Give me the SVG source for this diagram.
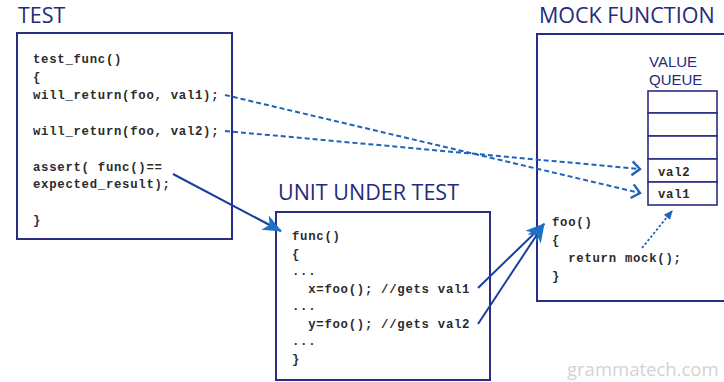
<svg xmlns="http://www.w3.org/2000/svg" width="724" height="382" viewBox="0 0 724 382">
  <style>
    .title { font-family: "Open Sans", "Liberation Sans", sans-serif; font-size: 21.5px; fill: #252a7c; }
    .label { font-family: "Liberation Sans", "Open Sans", sans-serif; font-size: 15px; fill: #252a7c; }
    .box { fill: #ffffff; stroke: #2a2d86; stroke-width: 2; }
    .cell { fill: #ffffff; stroke: #2a2d86; stroke-width: 1.6; }
    .code { font-family: "Liberation Mono", "Courier New", monospace; font-size: 12.3px; font-weight: bold; letter-spacing: 0.72px; fill: #2b2b2b; white-space: pre; }
    .dash { fill: none; stroke: #1f63b6; stroke-width: 2; stroke-dasharray: 5 3; }
    .dot { fill: none; stroke: #1f63b6; stroke-width: 1.8; stroke-dasharray: 2.5 2; }
    .solid { fill: none; stroke: #1b3d9f; stroke-width: 2; }
    .mark { font-family: "Open Sans", "Liberation Sans", sans-serif; font-size: 18.5px; fill: #d3d3d3; }
  </style>
  <defs>
    <marker id="chev" markerUnits="userSpaceOnUse" markerWidth="12" markerHeight="16" refX="9" refY="7" orient="auto" overflow="visible">
      <path d="M1,0 L9,7 L1,14" fill="none" stroke="#1f63b6" stroke-width="2.4"/>
    </marker>
    <marker id="head" markerUnits="userSpaceOnUse" markerWidth="20" markerHeight="16" refX="18" refY="8" orient="auto" overflow="visible">
      <path d="M0,0 L19,8 L0,16 L5,8 z" fill="#1e6fc6"/>
    </marker>
    <marker id="small" markerUnits="userSpaceOnUse" markerWidth="9" markerHeight="8" refX="8" refY="4" orient="auto" overflow="visible">
      <path d="M0,0 L9,4 L0,8 z" fill="#1f63b6"/>
    </marker>
  </defs>

  <rect width="724" height="382" fill="#ffffff"/>

  <!-- test case -->
  <g id="test">
    <text class="title" x="18" y="23">TEST</text>
    <rect class="box" x="17" y="33" width="215" height="206"/>
    <text class="code" x="33" y="63">test_func()</text>
    <text class="code" x="33" y="81">{</text>
    <text class="code" x="33" y="99">will_return(foo, val1);</text>
    <text class="code" x="33" y="135">will_return(foo, val2);</text>
    <text class="code" x="33" y="171">assert( func()==</text>
    <text class="code" x="33" y="188">expected_result);</text>
    <text class="code" x="33" y="224">}</text>
  </g>

  <!-- code being exercised -->
  <g id="unit-under-test">
    <text class="title" x="278" y="200">UNIT UNDER TEST</text>
    <rect class="box" x="276" y="212" width="214" height="168"/>
    <text class="code" x="292" y="240">func()</text>
    <text class="code" x="292" y="257.5">{</text>
    <text class="code" x="292" y="275">...</text>
    <text class="code" x="292" y="292.5">  x=foo(); //gets val1</text>
    <text class="code" x="292" y="310">...</text>
    <text class="code" x="292" y="327.5">  y=foo(); //gets val2</text>
    <text class="code" x="292" y="345">...</text>
    <text class="code" x="292" y="362.5">}</text>
  </g>

  <!-- mocked dependency -->
  <g id="mock-function">
    <text class="title" x="539" y="23">MOCK FUNCTION</text>
    <rect class="box" x="537" y="34" width="200" height="267"/>
    <text class="code" x="552" y="226">foo()</text>
    <text class="code" x="552" y="244">{</text>
    <text class="code" x="552" y="262">  return mock();</text>
    <text class="code" x="552" y="280">}</text>
  </g>

  <g id="value-queue">
    <text class="label" x="649" y="67">VALUE</text>
    <text class="label" x="649" y="84.5">QUEUE</text>
    <rect class="cell" x="648" y="91" width="69" height="22"/>
    <rect class="cell" x="648" y="113" width="69" height="23"/>
    <rect class="cell" x="648" y="136" width="69" height="23"/>
    <rect class="cell" x="648" y="159" width="69" height="23"/>
    <rect class="cell" x="648" y="182" width="69" height="23"/>
    <text class="code" x="658" y="176">val2</text>
    <text class="code" x="658" y="198">val1</text>
  </g>

  <!-- connectors -->
  <g id="connectors">
    <line class="dash" x1="225" y1="95" x2="640" y2="193" marker-end="url(#chev)"/>
    <line class="dash" x1="225" y1="131" x2="640" y2="169" marker-end="url(#chev)"/>
    <line class="dot" x1="642" y1="248" x2="672" y2="211" marker-end="url(#small)"/>
    <line class="solid" x1="173" y1="174" x2="281" y2="231" marker-end="url(#head)"/>
    <line class="solid" x1="478" y1="288" x2="544" y2="224" marker-end="url(#head)"/>
    <line class="solid" x1="478" y1="324" x2="544" y2="224" marker-end="url(#head)"/>
  </g>

  <text class="mark" x="567" y="376">grammatech.com</text>
</svg>
